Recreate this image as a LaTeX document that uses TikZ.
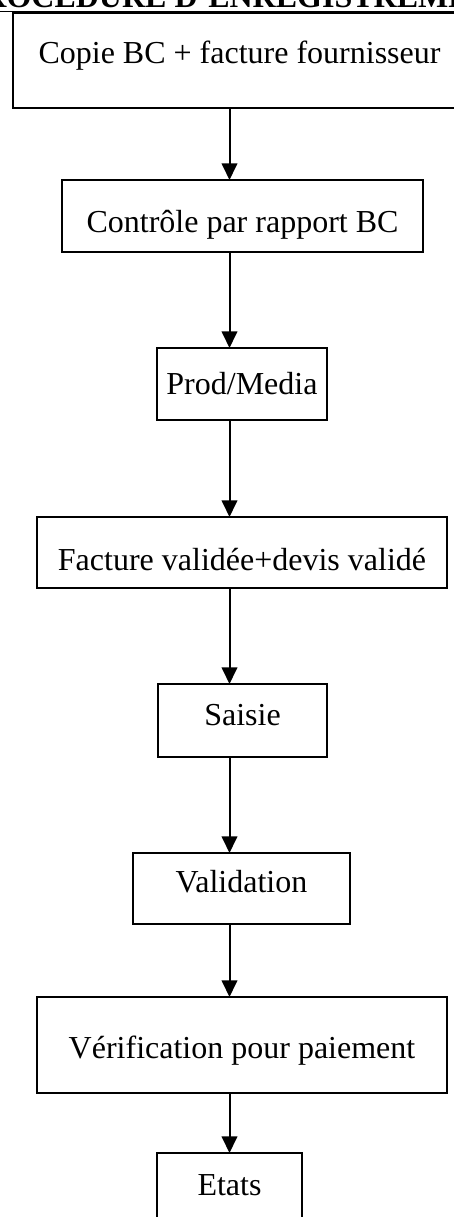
\documentclass[tikz,border=0pt]{standalone}
\usepackage{fontspec}
\setmainfont{Liberation Serif}
\usepackage{tikz}
\usetikzlibrary{arrows.meta,positioning}

\begin{document}
\begin{tikzpicture}[x=0.375pt,y=-0.375pt,every node/.style={font=\fontsize{12}{14}\selectfont}]
\tikzset{stage/.style={draw,line width=0.75pt,inner sep=0pt,outer sep=0pt,anchor=north west,align=center},
  flow/.style={line width=0.75pt,-{Triangle[width=5.8pt,length=6.2pt]}}}
\path[use as bounding box,clip] (0,0) rectangle (454,1217);
\coordinate (spine) at (229.5,0);
\node[inner sep=0pt,anchor=base,font=\fontsize{12}{14}\selectfont\bfseries] (title) at (239,7.5) {\underline{PROCEDURE D'ENREGISTREMENT}};
\node[stage,minimum width=169.875pt,text height=18.75pt,text depth=16.875pt] (copie) at (13,13) {Copie BC + facture fournisseur};
\node[stage,minimum width=135.375pt,text height=19.5pt,text depth=7.5pt] (controle) at (62,180) {Contrôle par rapport BC};
\node[stage,minimum width=63.75pt,text height=17.25pt,text depth=9.75pt] (prod) at (157,348) {Prod/Media};
\node[stage,minimum width=153.75pt,text height=19.875pt,text depth=6.75pt] (facture) at (37,517) {Facture validée+devis validé};
\node[stage,minimum width=63.375pt,text height=15.375pt,text depth=12pt] (saisie) at (158,684) {Saisie};
\node[stage,minimum width=81.375pt,text height=14.625pt,text depth=12pt] (validation) at (133,853) {Validation};
\node[stage,minimum width=153.75pt,text height=22.875pt,text depth=13.125pt] (verif) at (37,997) {Vérification pour paiement};
\node[stage,minimum width=54.375pt,text height=15.75pt,text depth=11.25pt] (etats) at (157,1153) {Etats};
\draw[flow] (copie.south -| spine)--(controle.north -| spine);
\draw[flow] (controle.south -| spine)--(prod.north -| spine);
\draw[flow] (prod.south -| spine)--(facture.north -| spine);
\draw[flow] (facture.south -| spine)--(saisie.north -| spine);
\draw[flow] (saisie.south -| spine)--(validation.north -| spine);
\draw[flow] (validation.south -| spine)--(verif.north -| spine);
\draw[flow] (verif.south -| spine)--(etats.north -| spine);
\end{tikzpicture}
\end{document}
